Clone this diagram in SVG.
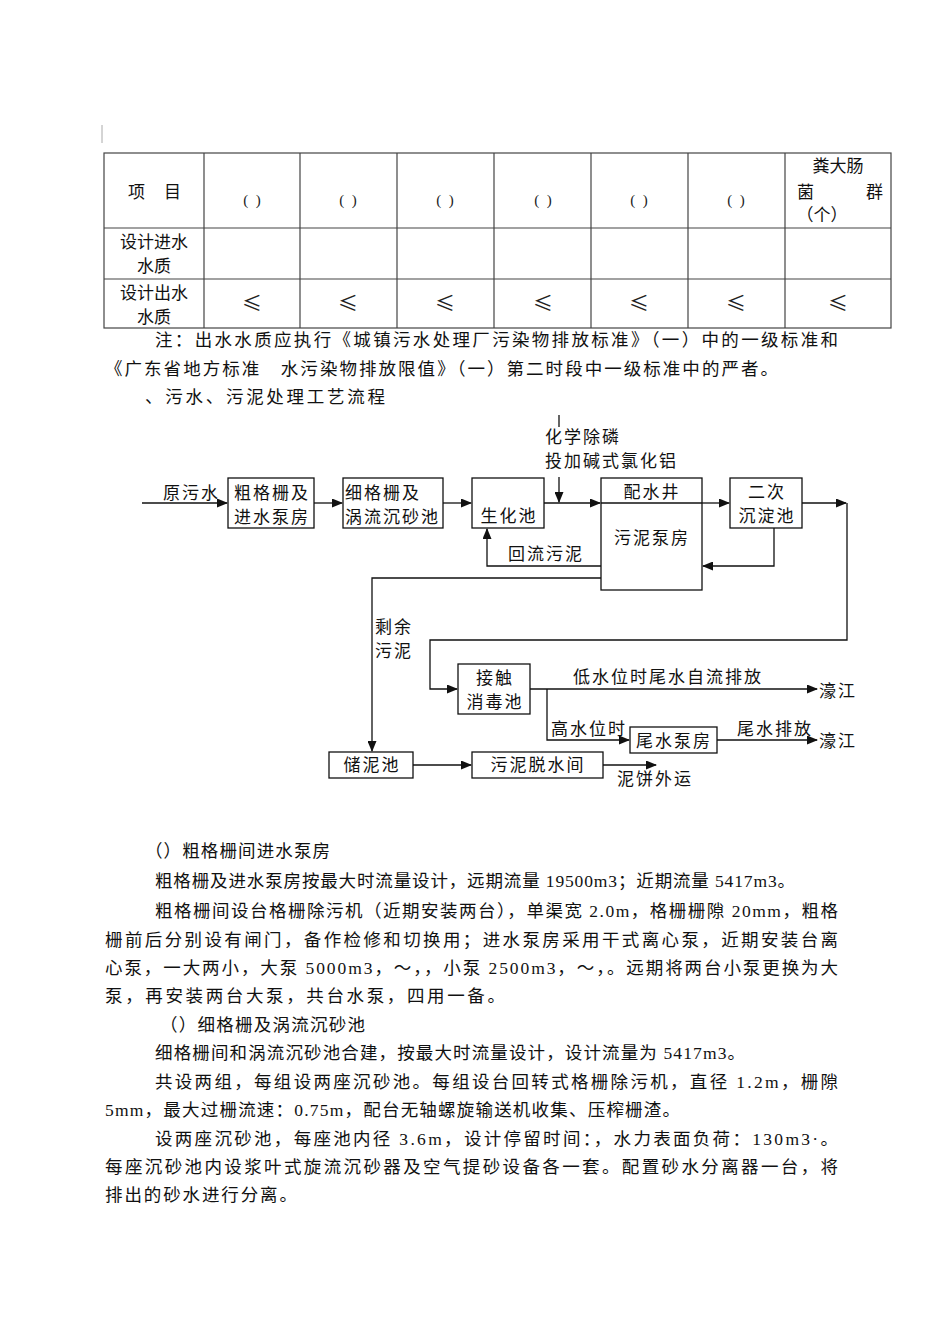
<svg xmlns="http://www.w3.org/2000/svg" width="950" height="1344" viewBox="0 0 950 1344">
<defs>
<style>
.t{font-family:"Liberation Serif","Noto Sans CJK SC",serif;font-size:17px;fill:#111}
.f{font-family:"Noto Sans CJK SC",sans-serif;font-size:17px;fill:#111;letter-spacing:2px}
.c{text-anchor:middle}
.b{font-family:"Liberation Serif","Noto Sans CJK SC",serif;font-size:17.5px;fill:#111}
.box{fill:#fff;stroke:#111;stroke-width:1.3}
.ln{fill:none;stroke:#111;stroke-width:1.3}
.tl{stroke:#444;stroke-width:1.2;fill:none}
.le{font-family:"Noto Sans CJK SC",sans-serif;font-size:20px;fill:#222;text-anchor:middle}
</style>
<marker id="ah" markerWidth="11" markerHeight="9" refX="10" refY="4.5" orient="auto" markerUnits="userSpaceOnUse">
<path d="M0 0 L11 4.5 L0 9 z" fill="#111"/>
</marker>
</defs>
<rect width="950" height="1344" fill="#fff"/>
<line x1="102" y1="125" x2="102" y2="143" stroke="#aaa" stroke-width="1"/>

<g id="table">
<rect class="tl" x="104" y="153" width="787" height="175"/>
<line class="tl" x1="104" y1="228" x2="891" y2="228"/>
<line class="tl" x1="104" y1="279" x2="891" y2="279"/>
<line class="tl" x1="204" y1="153" x2="204" y2="328"/>
<line class="tl" x1="300" y1="153" x2="300" y2="328"/>
<line class="tl" x1="397" y1="153" x2="397" y2="328"/>
<line class="tl" x1="494" y1="153" x2="494" y2="328"/>
<line class="tl" x1="591" y1="153" x2="591" y2="328"/>
<line class="tl" x1="688" y1="153" x2="688" y2="328"/>
<line class="tl" x1="785" y1="153" x2="785" y2="328"/>
<text class="t" x="128" y="198" font-size="16">项</text>
<text class="t" x="164" y="198" font-size="16">目</text>
<g font-family="Liberation Serif,serif" font-size="15" text-anchor="middle" fill="#222" letter-spacing="2">
<text x="253" y="205">( )</text><text x="349" y="205">( )</text><text x="446" y="205">( )</text>
<text x="544" y="205">( )</text><text x="640" y="205">( )</text><text x="737" y="205">( )</text>
</g>
<text class="t c" x="838" y="172" font-size="16">粪大肠</text>
<text class="t" x="797" y="198" font-size="16">菌</text>
<text class="t" x="866" y="198" font-size="16">群</text>
<text class="t c" x="822" y="221" font-size="16">（个）</text>
<text class="t c" x="154" y="248">设计进水</text>
<text class="t c" x="154" y="272">水质</text>
<text class="t c" x="154" y="299">设计出水</text>
<text class="t c" x="154" y="323">水质</text>
<g>
<text class="le" x="252" y="311">≤</text><text class="le" x="348" y="311">≤</text><text class="le" x="445" y="311">≤</text>
<text class="le" x="543" y="311">≤</text><text class="le" x="639" y="311">≤</text><text class="le" x="736" y="311">≤</text><text class="le" x="838" y="311">≤</text>
</g>
</g>

<g id="notes">
<text class="b" x="155" y="346" textLength="683" lengthAdjust="spacing">注：出水水质应执行《城镇污水处理厂污染物排放标准》（一）中的一级标准和</text>
<text class="b" x="105" y="375" textLength="673" lengthAdjust="spacing">《广东省地方标准　水污染物排放限值》（一）第二时段中一级标准中的严者。</text>
<text class="b" x="145" y="403" textLength="240" lengthAdjust="spacing">、污水、污泥处理工艺流程</text>
</g>

<g id="connectors">
<path class="ln" d="M142 503 H227" marker-end="url(#ah)"/>
<path class="ln" d="M314 503 H342" marker-end="url(#ah)"/>
<path class="ln" d="M443 503 H471" marker-end="url(#ah)"/>
<path class="ln" d="M544 503 H600" marker-end="url(#ah)"/>
<path class="ln" d="M559 415 V427"/>
<path class="ln" d="M559 477 V502" marker-end="url(#ah)"/>
<path class="ln" d="M702 503 H729" marker-end="url(#ah)"/>
<path class="ln" d="M802 503 H846" marker-end="url(#ah)"/>
<path class="ln" d="M847 503 V640 H430 V689 H457" marker-end="url(#ah)"/>
<path class="ln" d="M774 528 V566 H703" marker-end="url(#ah)"/>
<path class="ln" d="M601 566 H487 V529" marker-end="url(#ah)"/>
<path class="ln" d="M601 578 H372 V751" marker-end="url(#ah)"/>
<path class="ln" d="M530 689 H817" marker-end="url(#ah)"/>
<path class="ln" d="M547 689 V740 H629" marker-end="url(#ah)"/>
<path class="ln" d="M717 740 H817" marker-end="url(#ah)"/>
<path class="ln" d="M413 765 H471" marker-end="url(#ah)"/>
<path class="ln" d="M603 765 H656" marker-end="url(#ah)"/>
</g>

<g id="labels">
<text class="f" x="163" y="499" letter-spacing="1.5">原污水</text>
<text class="f" x="545" y="443" font-size="16" letter-spacing="2.5">化学除磷</text>
<text class="f" x="545" y="467" font-size="16" letter-spacing="2.5">投加碱式氯化铝</text>
<text class="f" x="508" y="560">回流污泥</text>
<text class="f" x="375" y="633" font-size="16.5">剩余</text>
<text class="f" x="375" y="657" font-size="16.5">污泥</text>
<text class="f" x="573" y="683">低水位时尾水自流排放</text>
<text class="f" x="819" y="697">濠江</text>
<text class="f" x="551" y="735" letter-spacing="1.5">高水位时</text>
<text class="f" x="737" y="735">尾水排放</text>
<text class="f" x="819" y="747">濠江</text>
<text class="f" x="617" y="785">泥饼外运</text>
</g>

<g id="n1"><rect class="box" x="228" y="478" width="86" height="50"/>
<text class="f c" x="272" y="499">粗格栅及</text><text class="f c" x="272" y="523">进水泵房</text></g>
<g id="n2"><rect class="box" x="343" y="478" width="100" height="50"/>
<text class="f" x="345" y="499">细格栅及</text><text class="f" x="345" y="523">涡流沉砂池</text></g>
<g id="n3"><rect class="box" x="472" y="478" width="72" height="50"/>
<text class="f c" x="509" y="522">生化池</text></g>
<g id="n4"><rect class="box" x="601" y="478" width="101" height="112"/>
<line class="ln" x1="601" y1="503" x2="702" y2="503"/>
<text class="f c" x="652" y="498">配水井</text><text class="f c" x="652" y="544">污泥泵房</text></g>
<g id="n5"><rect class="box" x="730" y="478" width="72" height="50"/>
<text class="f c" x="767" y="498">二次</text><text class="f c" x="767" y="522">沉淀池</text></g>
<g id="n6"><rect class="box" x="458" y="664" width="72" height="50"/>
<text class="f c" x="495" y="684">接触</text><text class="f c" x="495" y="708">消毒池</text></g>
<g id="n7"><rect class="box" x="630" y="727" width="87" height="26"/>
<text class="f c" x="674" y="747">尾水泵房</text></g>
<g id="n8"><rect class="box" x="329" y="752" width="84" height="26"/>
<text class="f c" x="372" y="771">储泥池</text></g>
<g id="n9"><rect class="box" x="472" y="752" width="131" height="26"/>
<text class="f c" x="538" y="771">污泥脱水间</text></g>

<g id="body">
<text class="b" x="145" y="857" textLength="185" lengthAdjust="spacing">（）粗格栅间进水泵房</text>
<text class="b" x="155" y="887" textLength="640" lengthAdjust="spacing">粗格栅及进水泵房按最大时流量设计，远期流量 19500m3；近期流量 5417m3。</text>
<text class="b" x="155" y="917" textLength="683" lengthAdjust="spacing">粗格栅间设台格栅除污机（近期安装两台），单渠宽 2.0m，格栅栅隙 20mm，粗格</text>
<text class="b" x="105" y="946" textLength="733" lengthAdjust="spacing">栅前后分别设有闸门，备作检修和切换用；进水泵房采用干式离心泵，近期安装台离</text>
<text class="b" x="105" y="974" textLength="733" lengthAdjust="spacing">心泵，一大两小，大泵 5000m3，～，，小泵 2500m3，～，。远期将两台小泵更换为大</text>
<text class="b" x="105" y="1002" textLength="400" lengthAdjust="spacing">泵，再安装两台大泵，共台水泵，四用一备。</text>
<text class="b" x="160" y="1031" textLength="205" lengthAdjust="spacing">（）细格栅及涡流沉砂池</text>
<text class="b" x="155" y="1059" textLength="590" lengthAdjust="spacing">细格栅间和涡流沉砂池合建，按最大时流量设计，设计流量为 5417m3。</text>
<text class="b" x="155" y="1088" textLength="683" lengthAdjust="spacing">共设两组，每组设两座沉砂池。每组设台回转式格栅除污机，直径 1.2m，栅隙</text>
<text class="b" x="105" y="1116" textLength="575" lengthAdjust="spacing">5mm，最大过栅流速：0.75m，配台无轴螺旋输送机收集、压榨栅渣。</text>
<text class="b" x="155" y="1145" textLength="683" lengthAdjust="spacing">设两座沉砂池，每座池内径 3.6m，设计停留时间：，水力表面负荷：130m3·。</text>
<text class="b" x="105" y="1173" textLength="733" lengthAdjust="spacing">每座沉砂池内设浆叶式旋流沉砂器及空气提砂设备各一套。配置砂水分离器一台，将</text>
<text class="b" x="105" y="1201" textLength="192" lengthAdjust="spacing">排出的砂水进行分离。</text>
</g>
</svg>
